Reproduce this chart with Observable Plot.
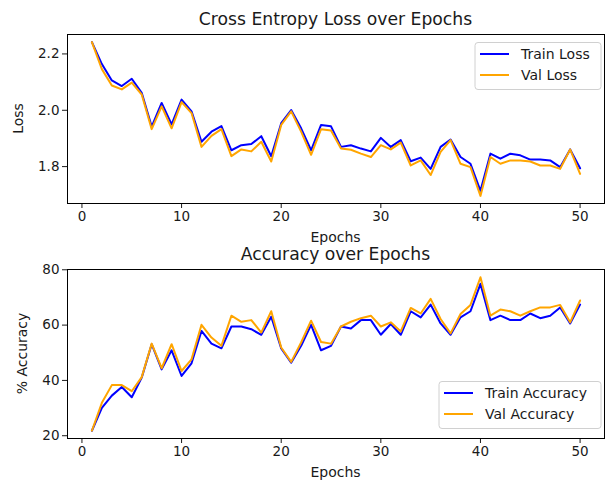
<!DOCTYPE html>
<html><head><meta charset="utf-8">
<script src="https://cdn.jsdelivr.net/npm/d3@7"></script>
<script src="https://cdn.jsdelivr.net/npm/@observablehq/plot@0.6"></script>
<style>
body{margin:0;background:#fff}
#wrap{position:relative;width:605px;height:485px;font-family:"DejaVu Sans"}
#wrap svg{position:absolute;left:0}
</style>
</head><body><div id="wrap"></div>
<script>
const epochs = [1,2,3,4,5,6,7,8,9,10,11,12,13,14,15,16,17,18,19,20,21,22,23,24,25,26,27,28,29,30,31,32,33,34,35,36,37,38,39,40,41,42,43,44,45,46,47,48,49,50];
const trainLoss = [2.242,2.164,2.106,2.086,2.112,2.062,1.942,2.026,1.950,2.038,1.996,1.888,1.924,1.944,1.858,1.876,1.880,1.908,1.837,1.954,2.001,1.936,1.858,1.948,1.943,1.870,1.876,1.864,1.854,1.902,1.870,1.894,1.819,1.832,1.792,1.870,1.896,1.834,1.810,1.714,1.846,1.828,1.846,1.840,1.825,1.825,1.822,1.798,1.861,1.794];
const valLoss = [2.242,2.146,2.088,2.074,2.098,2.056,1.933,2.014,1.936,2.029,1.990,1.870,1.909,1.933,1.837,1.861,1.854,1.888,1.818,1.948,1.996,1.924,1.842,1.933,1.928,1.864,1.860,1.846,1.834,1.876,1.861,1.885,1.804,1.822,1.770,1.852,1.894,1.810,1.798,1.696,1.834,1.810,1.822,1.822,1.818,1.804,1.804,1.792,1.861,1.774];
const trainAcc = [21.8,30.1,34.5,37.6,33.9,41.0,53.1,44.0,50.9,41.6,46.2,57.9,53.3,51.6,59.5,59.5,58.5,56.5,63.0,51.6,46.4,52.5,60.1,50.9,52.5,59.5,58.8,61.8,61.8,56.5,60.4,56.5,65.0,62.8,67.4,60.6,56.5,62.8,65.0,74.9,61.8,63.4,61.8,61.8,64.2,62.5,63.4,66.4,60.6,67.4];
const valAcc = [21.8,31.9,38.3,38.3,36.1,41.2,53.3,44.4,53.1,43.4,47.6,60.1,55.5,52.5,63.4,61.2,61.8,57.3,65.0,51.9,46.7,53.7,61.6,53.9,53.3,59.5,61.2,62.5,63.4,59.5,61.0,57.7,66.2,64.2,69.5,62.2,57.0,64.0,67.3,77.3,63.4,65.6,65.0,63.4,65.0,66.4,66.4,67.3,61.0,68.9];
const xTicks = [0,10,20,30,40,50];
const lossTicks = [1.8,2.0,2.2];
const accTicks = [20,40,60,80];
const titles = ["Cross Entropy Loss over Epochs","Accuracy over Epochs"];
const yLabels = ["Loss","% Accuracy"];
const xLabel = "Epochs";
const lossNames = ["Train Loss","Val Loss"];
const accNames = ["Train Accuracy","Val Accuracy"];
const colors = ["#0000ff","#ffa500"];

const wrap = document.getElementById("wrap");
const toRows = vals => epochs.map((e,i)=>({epoch:e, value:vals[i]}));
const TXT = "#1a1a1a";

function panel(opts){
  const svg = Plot.plot({
    width:605, height:250,
    marginTop:34, marginBottom:47, marginLeft:67, marginRight:1,
    style:{fontFamily:"DejaVu Sans", fontSize:"13.5px", color:TXT, background:"transparent"},
    x:{domain:[-1.45,52.45], ticks:xTicks, tickSize:5, tickPadding:3, label:null},
    y:{domain:opts.yDomain, ticks:opts.yTicks, tickFormat:opts.tickFormat, tickSize:5, tickPadding:3, label:null},
    marks:[
      Plot.line(toRows(opts.series[0]), {x:"epoch", y:"value", stroke:colors[0], strokeWidth:2}),
      Plot.line(toRows(opts.series[1]), {x:"epoch", y:"value", stroke:colors[1], strokeWidth:2}),
      Plot.frame({stroke:"#000", strokeWidth:1})
    ]
  });
  svg.style.top = opts.top + "px";
  const s = d3.select(svg);
  s.append("text").attr("x",335.5).attr("y",19).attr("text-anchor","middle").attr("dominant-baseline","central")
    .attr("font-size","17.2px").attr("fill",TXT).text(opts.title);
  s.append("text").attr("x",335.5).attr("y",237).attr("text-anchor","middle").attr("dominant-baseline","central")
    .attr("font-size","14px").attr("fill",TXT).text(xLabel);
  s.append("text").attr("transform",`translate(${opts.ylx},118.5) rotate(-90)`).attr("text-anchor","middle").attr("dominant-baseline","central")
    .attr("font-size","14px").attr("fill",TXT).text(opts.ylabel);
  const L = opts.legend;
  const g = s.append("g");
  g.append("rect").attr("x",L.x).attr("y",L.y).attr("width",L.w).attr("height",47).attr("rx",3)
    .attr("fill","#fff").attr("fill-opacity",0.8).attr("stroke","#d0d0d0").attr("stroke-width",1);
  opts.names.forEach((n,i)=>{
    const yy = L.y + 11.5 + i*21;
    g.append("line").attr("x1",L.x+5).attr("x2",L.x+34).attr("y1",yy).attr("y2",yy).attr("stroke",colors[i]).attr("stroke-width",2);
    g.append("text").attr("x",L.x+46).attr("y",yy).attr("text-anchor","start").attr("dominant-baseline","central")
      .attr("font-size","14px").attr("fill",TXT).text(n);
  });
  wrap.appendChild(svg);
}

panel({top:0, yDomain:[1.669,2.269], yTicks:lossTicks, tickFormat:".1f", series:[trainLoss,valLoss],
  title:titles[0], ylabel:yLabels[0], ylx:18, names:lossNames, legend:{x:475,y:42.5,w:126}});
panel({top:235, yDomain:[19.0,80.1], yTicks:accTicks, tickFormat:"d", series:[trainAcc,valAcc],
  title:titles[1], ylabel:yLabels[1], ylx:22, names:accNames, legend:{x:439,y:146.5,w:162}});
</script>
</body></html>
